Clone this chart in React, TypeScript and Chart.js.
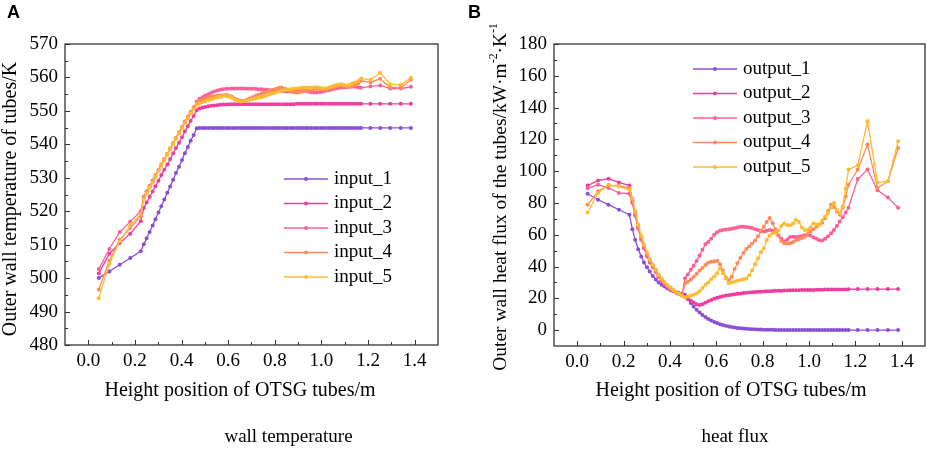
import React, { useEffect, useRef } from "react";
import { Chart, registerables } from "chart.js";

Chart.register(...registerables);

// ---------------- DATA ----------------
const heights = [
  0.045, 0.09, 0.135, 0.18, 0.225,
  0.238, 0.25, 0.263, 0.276, 0.288, 0.301, 0.313, 0.326, 0.339, 0.351,
  0.364, 0.376, 0.389, 0.402, 0.414, 0.427, 0.439, 0.452, 0.465, 0.477,
  0.49, 0.502, 0.515, 0.528, 0.54, 0.553, 0.565, 0.578, 0.591, 0.603,
  0.616, 0.628, 0.641, 0.654, 0.666, 0.679, 0.691, 0.704, 0.717, 0.729,
  0.742, 0.754, 0.767, 0.78, 0.792, 0.805, 0.817, 0.83, 0.843, 0.855,
  0.868, 0.88, 0.893, 0.906, 0.918, 0.931, 0.943, 0.956, 0.969, 0.981,
  0.994, 1.006, 1.019, 1.032, 1.044, 1.057, 1.069, 1.082, 1.095, 1.107,
  1.12, 1.132, 1.145, 1.158, 1.17,
  1.21, 1.252, 1.295, 1.34, 1.384,
];

const input1 = [
  500.0, 502.0, 504.0, 506.0, 508.0,
  510.1, 511.9, 513.8, 515.7, 517.6, 519.6, 521.5, 523.5, 525.5, 527.4,
  529.4, 531.4, 533.3, 535.3, 537.3, 539.2, 541.1, 542.8, 544.8, 544.9,
  544.9, 544.9, 544.9, 544.9, 544.9, 544.9, 544.9, 544.9, 544.9, 544.9,
  544.9, 544.9, 544.9, 544.9, 544.9, 544.9, 544.9, 544.9, 544.9, 544.9,
  544.9, 544.9, 544.9, 544.9, 544.9, 544.9, 544.9, 544.9, 544.9, 544.9,
  544.9, 544.9, 544.9, 544.9, 544.9, 544.9, 544.9, 544.9, 544.9, 544.9,
  544.9, 544.9, 544.9, 544.9, 544.9, 544.9, 544.9, 544.9, 544.9, 544.9,
  544.9, 544.9, 544.9, 544.9, 544.9,
  544.9, 544.9, 544.9, 544.9, 544.9,
];

const input2 = [
  501.4, 507.3, 510.5, 513.3, 517.0,
  521.0, 522.6, 524.3, 525.9, 527.5, 529.1, 530.8, 532.4, 534.0, 535.6,
  537.3, 538.9, 540.5, 542.1, 543.8, 545.4, 547.0, 548.5, 550.2, 550.7,
  551.0, 551.2, 551.4, 551.5, 551.6, 551.7, 551.8, 551.9, 551.9, 552.0,
  552.0, 552.0, 552.0, 552.0, 552.0, 552.0, 552.0, 552.0, 552.0, 552.0,
  552.0, 552.0, 552.0, 552.0, 552.0, 552.0, 552.0, 552.0, 552.0, 552.0,
  552.0, 552.0, 552.1, 552.1, 552.1, 552.1, 552.1, 552.1, 552.1, 552.1,
  552.1, 552.1, 552.1, 552.1, 552.1, 552.1, 552.1, 552.1, 552.1, 552.1,
  552.1, 552.1, 552.1, 552.1, 552.1,
  552.1, 552.1, 552.1, 552.1, 552.1,
];

const input3 = [
  502.7, 508.7, 513.8, 516.9, 520.0,
  524.2, 525.8, 527.4, 529.0, 530.6, 532.2, 533.8, 535.4, 537.0, 538.6,
  540.2, 541.8, 543.4, 545.0, 546.6, 548.2, 549.6, 551.0, 552.8, 553.6,
  554.1, 554.6, 555.0, 555.4, 555.8, 556.1, 556.3, 556.5, 556.6, 556.6,
  556.7, 556.7, 556.7, 556.7, 556.7, 556.6, 556.6, 556.6, 556.6, 556.5,
  556.5, 556.4, 556.3, 556.2, 556.1, 556.0, 556.0, 556.0, 555.9, 555.8,
  555.8, 555.9, 556.0, 556.1, 556.1, 556.0, 555.8, 555.6, 555.5, 555.5,
  555.6, 555.8, 556.0, 556.2, 556.4, 556.6, 556.8, 557.0, 557.1, 557.1,
  557.2, 557.2, 557.2, 557.1, 556.9,
  557.3, 557.6, 556.7, 556.7, 557.2,
];

const input4 = [
  496.6, 505.2, 511.5, 515.0, 518.5,
  524.4, 526.0, 527.6, 529.2, 530.8, 532.4, 534.0, 535.6, 537.2, 538.8,
  540.4, 542.0, 543.6, 545.2, 546.8, 548.3, 549.7, 551.0, 552.4, 553.0,
  553.4, 553.7, 554.0, 554.2, 554.4, 554.5, 554.6, 554.7, 554.8, 554.6,
  554.2, 553.7, 553.3, 553.0, 553.0, 553.3, 553.7, 554.1, 554.5, 554.8,
  555.1, 555.4, 555.7, 556.0, 556.3, 556.6, 556.9, 557.0, 556.6, 556.2,
  555.9, 555.6, 555.5, 555.6, 555.8, 556.0, 556.2, 556.4, 556.5, 556.6,
  556.5, 556.4, 556.5, 556.7, 556.9, 557.1, 557.4, 557.6, 557.5, 557.3,
  557.2, 557.4, 557.8, 558.3, 559.0,
  558.5, 559.6, 557.0, 557.0, 559.3,
];

const input5 = [
  494.0, 504.2, 511.0, 515.7, 519.2,
  523.6, 525.3, 527.0, 528.6, 530.3, 532.0, 533.6, 535.2, 536.9, 538.5,
  540.1, 541.7, 543.3, 544.8, 546.3, 547.8, 549.2, 550.5, 551.8, 552.3,
  552.6, 552.9, 553.2, 553.5, 553.8, 554.0, 554.2, 554.4, 554.5, 554.3,
  553.9, 553.4, 553.0, 552.8, 552.9, 553.1, 553.3, 553.5, 553.7, 553.9,
  554.1, 554.4, 554.7, 555.0, 555.3, 555.5, 555.8, 556.0, 556.2, 556.4,
  556.5, 556.6, 556.7, 556.8, 556.9, 557.0, 557.0, 556.9, 557.0, 557.1,
  556.9, 556.7, 556.8, 557.0, 557.3, 557.6, 557.8, 558.0, 557.8, 557.6,
  557.8, 558.2, 558.5, 558.9, 559.7,
  559.3, 561.4, 558.0, 557.8, 559.9,
];

const output1 = [
  85.8, 82.0, 78.9, 75.7, 72.6,
  63.5, 56.8, 50.9, 46.3, 42.5, 39.5, 36.8, 34.0, 31.8, 30.0,
  28.6, 27.4, 26.3, 25.3, 24.6, 23.9, 23.3, 22.8, 22.2, 19.5,
  17.0, 14.8, 12.8, 11.0, 9.5, 8.2, 7.0, 6.0, 5.1, 4.4,
  3.7, 3.2, 2.7, 2.3, 1.9, 1.6, 1.4, 1.2, 1.0, 0.85,
  0.7, 0.6, 0.5, 0.42, 0.36, 0.3, 0.25, 0.2, 0.17, 0.14,
  0.12, 0.1, 0.08, 0.07, 0.06, 0.05, 0.04, 0.03, 0.02, 0.02,
  0.02, 0.01, 0.01, 0.01, 0.01, 0.01, 0.01, 0, 0, 0,
  0, 0, 0, 0, 0,
  0, 0, 0, 0, 0,
];

const output2 = [
  90.9, 94.2, 95.2, 92.9, 90.9,
  81.0, 72.5, 64.5, 57.5, 52.0, 47.0, 43.0, 39.8, 36.8, 33.8,
  31.3, 29.2, 27.5, 26.0, 24.6, 23.5, 22.5, 21.7, 21.0, 19.8,
  18.5, 17.3, 16.3, 15.8, 16.2, 17.2, 18.2, 19.0, 19.7, 20.3,
  20.8, 21.3, 21.7, 22.0, 22.3, 22.6, 22.9, 23.1, 23.3, 23.5,
  23.7, 23.8, 24.0, 24.1, 24.2, 24.3, 24.4, 24.5, 24.6, 24.7,
  24.7, 24.8, 24.9, 24.9, 25.0, 25.0, 25.1, 25.1, 25.2, 25.2,
  25.3, 25.3, 25.3, 25.4, 25.4, 25.4, 25.5, 25.5, 25.5, 25.5,
  25.6, 25.6, 25.6, 25.6, 25.7,
  25.8, 25.8, 25.8, 25.8, 25.8,
];

const output3 = [
  89.2, 91.5, 89.4, 86.3, 85.8,
  80.0, 72.0, 64.0, 57.0, 51.5, 46.5, 42.5, 39.5, 36.5, 33.5,
  31.0, 29.0, 27.5, 26.0, 24.8, 23.8, 22.8, 22.0, 32.6, 35.0,
  37.9, 40.5, 43.5, 47.0, 50.5, 54.0, 55.5, 57.5, 60.0, 61.5,
  62.5, 63.0, 63.3, 63.5, 63.8, 64.2, 64.6, 65.0, 65.0, 64.8,
  64.5, 64.2, 63.5, 63.0, 62.5, 62.0, 62.5, 63.0, 62.5, 61.5,
  59.5, 57.5, 55.7, 57.0, 58.5, 58.8, 58.5, 58.8, 59.2, 59.6,
  60.0, 59.5, 58.3, 57.5, 56.6, 56.4, 57.5, 59.0, 61.0, 63.0,
  65.5, 68.3, 71.0, 74.0, 77.0,
  95.0, 101.0, 88.0, 83.5, 77.0,
];

const output4 = [
  78.9, 87.3, 90.9, 90.9, 89.4,
  82.5, 74.0, 65.5, 58.5, 53.0, 48.0, 43.8, 40.5, 37.5, 34.5,
  32.0, 29.8, 28.0, 26.5, 25.0, 23.8, 22.8, 21.8, 29.4, 30.5,
  31.8, 33.5, 35.5, 37.5, 39.0, 41.0, 42.3, 43.0, 43.3, 43.7,
  41.5, 37.5, 33.0, 31.5, 33.5, 38.5, 42.0, 45.5, 48.5, 51.0,
  52.6, 54.5, 56.3, 59.0, 62.0, 65.0, 68.0, 70.5, 67.3, 63.5,
  59.5, 56.0, 54.7, 54.5, 54.7, 55.5, 56.5, 57.2, 58.0, 58.8,
  60.5, 62.0, 63.5, 65.0, 66.5, 67.5, 70.5, 75.0, 78.9, 77.5,
  74.5, 72.5, 77.0, 84.0, 91.5,
  101.0, 116.7, 89.4, 93.6, 114.6,
];

const output5 = [
  74.0, 86.3, 91.5, 90.3, 88.3,
  83.0, 75.0, 66.5, 59.5, 54.0, 49.0, 44.8, 41.3, 38.0, 35.0,
  32.5, 30.3, 28.4, 26.8, 25.3, 24.0, 22.8, 21.5, 20.5, 21.3,
  21.8, 22.3, 23.0, 24.5, 26.5, 28.5, 30.0, 32.0, 33.8, 35.7,
  38.9, 36.0, 32.5, 29.4, 30.0, 30.5, 31.0, 31.5, 32.0, 32.5,
  34.5, 37.5, 41.5, 45.2, 49.0, 51.5, 56.5, 59.5, 61.0, 61.5,
  62.5, 65.5, 67.3, 66.2, 66.0, 67.0, 69.4, 68.0, 64.5, 63.0,
  63.0, 64.5, 67.3, 66.5, 66.0, 69.0, 71.5, 73.6, 77.0, 79.9,
  75.5, 73.6, 78.0, 89.0, 101.0,
  103.7, 131.4, 92.9, 93.6, 118.8,
];

const inputLabels = ["input_1", "input_2", "input_3", "input_4", "input_5"];
const outputLabels = ["output_1", "output_2", "output_3", "output_4", "output_5"];
const xTicks = [0, 0.2, 0.4, 0.6, 0.8, 1.0, 1.2, 1.4];
const tempTicks = [480, 490, 500, 510, 520, 530, 540, 550, 560, 570];
const fluxTicks = [0, 20, 40, 60, 80, 100, 120, 140, 160, 180];

// ---------------- STYLE ----------------
const COLORS = ["#8a4fd6", "#f03c9c", "#fb5f96", "#ff8a5a", "#ffbb33"];
const SERIF = "'Liberation Serif', 'Times New Roman', 'DejaVu Serif', serif";
const SANS = "'Liberation Sans', Arial, sans-serif";
const XAXIS_H = 40;

Chart.defaults.font.family = SERIF;
Chart.defaults.color = "#000";

type Seg = { t: string; sup?: boolean };

interface Panel {
  width: number;
  series: number[][];
  labels: string[];
  yMin: number;
  yMax: number;
  yTicks: number[];
  area: { left: number; right: number; top: number; bottom: number };
  legend: { x: number; y: number };
  yTitle: Seg[];
  yTitleSize: number;
  yTitleX: number;
  yTitleY: number;
  xTitleX: number;
  caption: string;
  captionX: number;
  letter: string;
  letterX: number;
}

function drawRotated(ctx: CanvasRenderingContext2D, segs: Seg[], cx: number, cy: number, size: number) {
  ctx.save();
  ctx.translate(cx, cy);
  ctx.rotate(-Math.PI / 2);
  ctx.textAlign = "left";
  ctx.textBaseline = "alphabetic";
  ctx.fillStyle = "#000";
  let total = 0;
  const widths = segs.map((s) => {
    ctx.font = `${s.sup ? size * 0.6 : size}px ${SERIF}`;
    const w = ctx.measureText(s.t).width;
    total += w;
    return w;
  });
  let x = -total / 2;
  segs.forEach((s, i) => {
    ctx.font = `${s.sup ? size * 0.6 : size}px ${SERIF}`;
    ctx.fillText(s.t, x, s.sup ? -size * 0.42 : 0);
    x += widths[i];
  });
  ctx.restore();
}

function minorValues(ticks: number[], min: number, max: number) {
  const out: number[] = [];
  const step = ticks[1] - ticks[0];
  const first = ticks[0] - step / 2;
  if (first > min + 1e-9) out.push(first);
  for (let i = 0; i < ticks.length - 1; i++) out.push((ticks[i] + ticks[i + 1]) / 2);
  const last = ticks[ticks.length - 1] + step / 2;
  if (last < max - 1e-9) out.push(last);
  return out;
}

function makeChart(canvas: HTMLCanvasElement, p: Panel) {
  const extras = {
    id: "extras",
    afterDraw(chart: any) {
      const ctx: CanvasRenderingContext2D = chart.ctx;
      const a = chart.chartArea;
      const xs = chart.scales.x;
      const ys = chart.scales.y;
      ctx.save();
      // frame
      ctx.strokeStyle = "#333";
      ctx.lineWidth = 1.3;
      ctx.strokeRect(a.left, a.top, a.right - a.left, a.bottom - a.top);
      // inward ticks
      ctx.lineWidth = 1;
      ctx.beginPath();
      xTicks.forEach((v) => {
        const px = Math.round(xs.getPixelForValue(v)) + 0.5;
        ctx.moveTo(px, a.bottom);
        ctx.lineTo(px, a.bottom - 5);
      });
      minorValues(xTicks, xs.min, xs.max).forEach((v) => {
        const px = Math.round(xs.getPixelForValue(v)) + 0.5;
        ctx.moveTo(px, a.bottom);
        ctx.lineTo(px, a.bottom - 3);
      });
      p.yTicks.forEach((v) => {
        const py = Math.round(ys.getPixelForValue(v)) + 0.5;
        ctx.moveTo(a.left, py);
        ctx.lineTo(a.left + 5, py);
      });
      minorValues(p.yTicks, ys.min, ys.max).forEach((v) => {
        const py = Math.round(ys.getPixelForValue(v)) + 0.5;
        ctx.moveTo(a.left, py);
        ctx.lineTo(a.left + 3, py);
      });
      ctx.stroke();

      // legend
      chart.data.datasets.forEach((ds: any, i: number) => {
        const lx = a.left + p.legend.x;
        const ly = a.top + p.legend.y + i * 24.5;
        ctx.strokeStyle = ds.borderColor;
        ctx.lineWidth = 1.3;
        ctx.beginPath();
        ctx.moveTo(lx, ly);
        ctx.lineTo(lx + 44, ly);
        ctx.stroke();
        ctx.fillStyle = ds.borderColor;
        ctx.beginPath();
        ctx.arc(lx + 22, ly, 2, 0, Math.PI * 2);
        ctx.fill();
        ctx.fillStyle = "#000";
        ctx.font = `19px ${SERIF}`;
        ctx.textAlign = "left";
        ctx.textBaseline = "middle";
        ctx.fillText(ds.label, lx + 50, ly);
      });

      // titles
      ctx.fillStyle = "#000";
      ctx.textAlign = "center";
      ctx.textBaseline = "alphabetic";
      ctx.font = `20px ${SERIF}`;
      ctx.fillText("Height position of OTSG tubes/m", p.xTitleX, 396);
      drawRotated(ctx, p.yTitle, p.yTitleX, p.yTitleY, p.yTitleSize);
      ctx.font = `19px ${SERIF}`;
      ctx.fillText(p.caption, p.captionX, 442);
      ctx.textAlign = "left";
      ctx.font = `bold 18px ${SANS}`;
      ctx.fillText(p.letter, p.letterX, 18);
      ctx.restore();
    },
  };

  return new Chart(canvas, {
    type: "line",
    data: {
      datasets: p.series.map((s, i) => ({
        label: p.labels[i],
        data: heights.map((h, j) => ({ x: h, y: s[j] })),
        borderColor: COLORS[i],
        backgroundColor: COLORS[i],
        pointBackgroundColor: COLORS[i],
        pointBorderWidth: 0,
        pointRadius: 2,
        pointHoverRadius: 2,
        borderWidth: 1.3,
        tension: 0,
        fill: false,
        order: p.series.length - 1 - i,
      })),
    },
    options: {
      responsive: false,
      animation: false,
      events: [],
      layout: {
        padding: {
          left: 0,
          top: p.area.top,
          right: p.width - p.area.right,
          bottom: 449 - p.area.bottom - XAXIS_H,
        },
      },
      plugins: { legend: { display: false }, tooltip: { enabled: false } },
      scales: {
        x: {
          type: "linear",
          min: -0.1,
          max: 1.5,
          afterBuildTicks: (s: any) => {
            s.ticks = xTicks.map((v) => ({ value: v }));
          },
          afterFit: (s: any) => {
            s.height = XAXIS_H;
          },
          grid: { display: false, drawTicks: false },
          border: { display: false },
          ticks: {
            autoSkip: false,
            maxRotation: 0,
            padding: 5,
            color: "#000",
            font: { family: SERIF, size: 19 },
            callback: (v: any) => Number(v).toFixed(1),
          },
        },
        y: {
          type: "linear",
          min: p.yMin,
          max: p.yMax,
          afterBuildTicks: (s: any) => {
            s.ticks = p.yTicks.map((v) => ({ value: v }));
          },
          afterFit: (s: any) => {
            s.width = p.area.left;
          },
          grid: { display: false, drawTicks: false },
          border: { display: false },
          ticks: {
            autoSkip: false,
            padding: 7,
            color: "#000",
            font: { family: SERIF, size: 19 },
            callback: (v: any) => String(v),
          },
        },
      },
    },
    plugins: [extras],
  } as any);
}

const leftPanel: Panel = {
  width: 460,
  series: [input1, input2, input3, input4, input5],
  labels: inputLabels,
  yMin: 480,
  yMax: 570,
  yTicks: tempTicks,
  area: { left: 65, right: 438, top: 44, bottom: 345 },
  legend: { x: 219, y: 135 },
  yTitle: [{ t: "Outer wall temperature of tubes/K" }],
  yTitleSize: 20,
  yTitleX: 15.5,
  yTitleY: 199,
  xTitleX: 240,
  caption: "wall temperature",
  captionX: 288.5,
  letter: "A",
  letterX: 7,
};

const rightPanel: Panel = {
  width: 467,
  series: [output1, output2, output3, output4, output5],
  labels: outputLabels,
  yMin: -10,
  yMax: 180,
  yTicks: fluxTicks,
  area: { left: 94, right: 465, top: 44, bottom: 346 },
  legend: { x: 139, y: 25 },
  yTitle: [
    { t: "Outer wall heat flux of the tubes/kW·m" },
    { t: "-2", sup: true },
    { t: "·K" },
    { t: "-1", sup: true },
  ],
  yTitleSize: 19.5,
  yTitleX: 45.5,
  yTitleY: 197,
  xTitleX: 271,
  caption: "heat flux",
  captionX: 275,
  letter: "B",
  letterX: 8,
};

function PanelCanvas({ panel, left }: { panel: Panel; left: number }) {
  const ref = useRef<HTMLCanvasElement | null>(null);
  useEffect(() => {
    if (!ref.current) return;
    const chart = makeChart(ref.current, panel);
    return () => chart.destroy();
  }, [panel]);
  return (
    <canvas
      ref={ref}
      width={panel.width}
      height={449}
      style={{ position: "absolute", left, top: 0, width: panel.width, height: 449 }}
    />
  );
}

export default function App() {
  return (
    <div style={{ position: "fixed", left: 0, top: 0, width: 927, height: 449, background: "#fff", overflow: "hidden" }}>
      <PanelCanvas panel={leftPanel} left={0} />
      <PanelCanvas panel={rightPanel} left={460} />
    </div>
  );
}
